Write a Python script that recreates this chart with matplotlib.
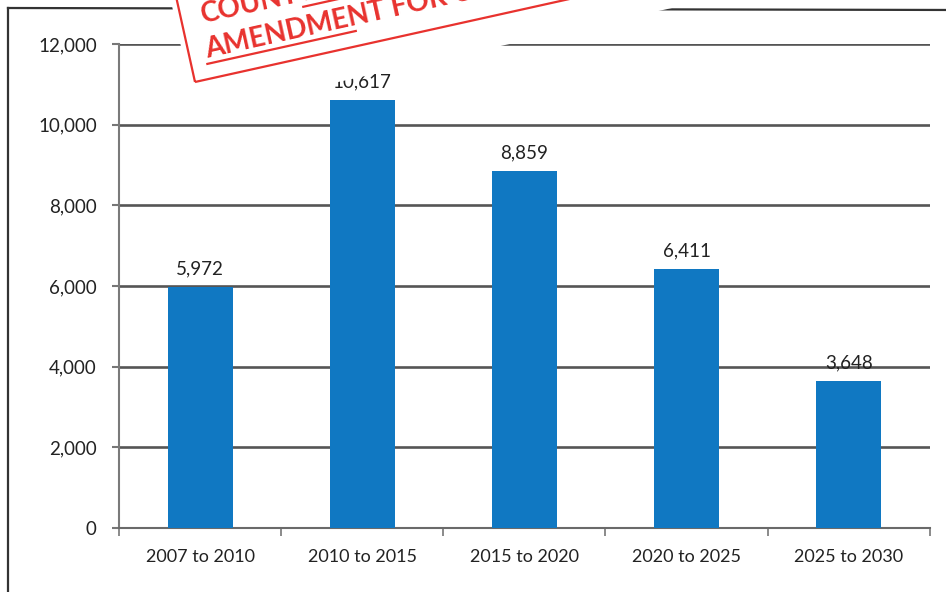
import numpy as np
import matplotlib.pyplot as plt
from matplotlib.patches import Rectangle
from matplotlib.lines import Line2D
from matplotlib.ticker import FuncFormatter

plt.rcParams['font.family'] = ['Lato', 'DejaVu Sans']

# --- data ---
periods = ['2007 to 2010', '2010 to 2015', '2015 to 2020', '2020 to 2025', '2025 to 2030']
values = [5972, 10617, 8859, 6411, 3648]
y_ticks = [0, 2000, 4000, 6000, 8000, 10000, 12000]

bar_color = '#1078c2'
grid_color = '#555555'
stamp_red = '#e8322e'


def draw_chart(ax):
    x = np.arange(len(periods))
    ax.bar(x, values, width=0.4, color=bar_color, zorder=3)

    # data labels above the bars
    for xi, v in zip(x, values):
        ax.annotate(f'{v:,}', (xi, v), xytext=(0, 7), textcoords='offset points',
                    ha='center', va='bottom', fontsize=13.5, color='#222222')

    ax.set_xlim(-0.5, len(periods) - 0.5)
    ax.set_ylim(y_ticks[0], y_ticks[-1])
    ax.set_yticks(y_ticks)
    ax.yaxis.set_major_formatter(FuncFormatter(lambda v, _: f'{v:,.0f}'))
    ax.yaxis.grid(True, color=grid_color, linewidth=1.9)
    ax.set_axisbelow(True)

    ax.set_xticks(x)
    ax.set_xticklabels(periods)
    ax.set_xticks(np.arange(len(periods) + 1) - 0.5, minor=True)
    ax.tick_params(axis='x', which='major', length=0, pad=15, labelsize=13, labelcolor='#222222')
    ax.tick_params(axis='x', which='minor', length=6, width=1.2, color='#777777', direction='out')
    ax.tick_params(axis='y', length=5, width=1.5, color='#777777', pad=11, labelsize=13.5,
                   labelcolor='#222222')

    for side in ('top', 'right'):
        ax.spines[side].set_visible(False)
    ax.spines['left'].set_color('#7a7a7a')
    ax.spines['left'].set_linewidth(1.5)
    ax.spines['bottom'].set_color('#6a6a6a')
    ax.spines['bottom'].set_linewidth(1.5)


def draw_scan_marks(ov):
    # outer frame of the scanned page
    ov.add_line(Line2D([8, 8], [-5, 584], color='#333333', lw=1.6, zorder=1))
    ov.add_line(Line2D([8, 960], [584, 582], color='#333333', lw=1.6, zorder=1))

    # rotated stamp
    x0, y0, ang = 195, 510, 12.5
    c, s = np.cos(np.radians(ang)), np.sin(np.radians(ang))

    def P(u, v):
        return x0 + u * c - v * s, y0 + u * s + v * c

    ov.add_patch(Rectangle(P(-6, -31), 800, 300, angle=ang, facecolor='white',
                           edgecolor='none', zorder=5))
    ov.add_patch(Rectangle(P(0, 0), 800, 200, angle=ang, facecolor='none',
                           edgecolor=stamp_red, lw=1.6, zorder=6))
    kw = dict(rotation=ang, rotation_mode='anchor', ha='left', va='baseline',
              fontsize=20, fontweight='bold', color=stamp_red, zorder=7)
    ov.text(*P(17, 21), 'AMENDMENT FOR U', **kw)
    ov.text(*P(20, 56), 'COUNTY', **kw)
    ux, uy = zip(P(16, 15), P(168, 15))
    ov.add_line(Line2D(ux, uy, color=stamp_red, lw=1.6, zorder=7))
    ux, uy = zip(P(122, 50), P(300, 50))
    ov.add_line(Line2D(ux, uy, color=stamp_red, lw=1.6, zorder=7))


def main():
    fig = plt.figure(figsize=(9.46, 5.92), dpi=100)
    ax = fig.add_axes([0.1258, 0.108, 0.857, 0.8176])
    draw_chart(ax)

    ov = fig.add_axes([0, 0, 1, 1])
    ov.set_xlim(0, 946)
    ov.set_ylim(0, 592)
    ov.axis('off')
    draw_scan_marks(ov)

    fig.savefig('out.png', dpi=100)


if __name__ == '__main__':
    main()
